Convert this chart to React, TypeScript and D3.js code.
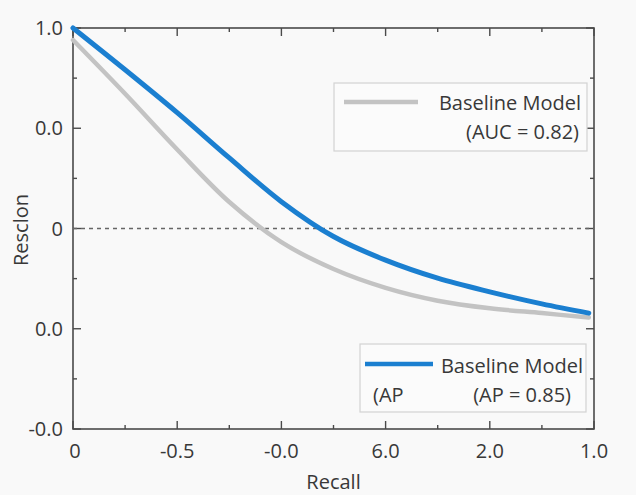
import * as d3 from 'd3';
import { useEffect, useRef } from 'react';

// recall positions (0..1) and precision values
const recall = [0, 0.1, 0.2, 0.3, 0.4, 0.5, 0.6, 0.7, 0.8, 0.9, 0.99];
const modelPrecision = [1.0, 0.896, 0.789, 0.676, 0.567, 0.48, 0.421, 0.376, 0.342, 0.312, 0.289];

const baseRecall = [0, 0.1, 0.2, 0.3, 0.4, 0.5, 0.6, 0.7, 0.8, 0.9, 0.99];
const basePrecision = [0.97, 0.836, 0.697, 0.566, 0.466, 0.399, 0.352, 0.32, 0.301, 0.289, 0.278];

const xTickLabels = ['0', '-0.5', '-0.0', '6.0', '2.0', '1.0'];
const yTickLabels = ['-0.0', '0.0', '0', '0.0', '1.0'];
const referenceLevel = 0.5;

const legendTop = { line: 'Baseline Model', sub: '(AUC = 0.82)' };
const legendBottom = { line: 'Baseline Model', left: '(AP', sub: '(AP = 0.85)' };

const FONT = '"Open Sans", "Noto Sans", sans-serif';
const BLUE = '#1b7fd0';
const GRAY = '#c3c3c3';
const TEXT = '#383838';

export default function App() {
  const ref = useRef<SVGSVGElement>(null);

  useEffect(() => {
    const width = 636, height = 495;
    const margin = { top: 28, right: 42, bottom: 66, left: 73 };
    const svg = d3.select(ref.current);
    svg.selectAll('*').remove();

    svg.append('rect').attr('width', width).attr('height', height).attr('fill', '#f9f9f9');

    const x = d3.scaleLinear().domain([0, 1]).range([margin.left, width - margin.right]);
    const y = d3.scaleLinear().domain([0, 1]).range([height - margin.bottom, margin.top]);

    const majors = d3.range(0, 1.0001, 0.2);
    const minorsX = d3.range(0.1, 1, 0.2);
    const majorsY = d3.range(0, 1.0001, 0.25);
    const minorsY = d3.range(0.125, 1, 0.25);

    const frame = svg.append('g').attr('stroke', '#4a4a4a').attr('fill', 'none');
    frame.append('rect')
      .attr('x', x(0)).attr('y', y(1))
      .attr('width', x(1) - x(0)).attr('height', y(0) - y(1))
      .attr('stroke-width', 1.6);

    const tickX = (vals: number[], len: number) => {
      vals.forEach(v => {
        frame.append('line').attr('x1', x(v)).attr('x2', x(v)).attr('y1', y(0)).attr('y2', y(0) - len).attr('stroke-width', 1.4);
        frame.append('line').attr('x1', x(v)).attr('x2', x(v)).attr('y1', y(1)).attr('y2', y(1) + len).attr('stroke-width', 1.4);
      });
    };
    const tickY = (vals: number[], len: number) => {
      vals.forEach(v => {
        frame.append('line').attr('y1', y(v)).attr('y2', y(v)).attr('x1', x(0)).attr('x2', x(0) + len).attr('stroke-width', 1.4);
        frame.append('line').attr('y1', y(v)).attr('y2', y(v)).attr('x1', x(1)).attr('x2', x(1) - len).attr('stroke-width', 1.4);
      });
    };
    tickX(majors, 8);
    tickX(minorsX, 4);
    tickY(majorsY, 8);
    tickY(minorsY, 4);

    svg.append('g').selectAll('text').data(majors).enter().append('text')
      .attr('x', (d, i) => x(d) + (i === 0 ? 2 : 0)).attr('y', 458)
      .attr('text-anchor', 'middle')
      .style('font-family', FONT).style('font-size', '20px').attr('fill', TEXT)
      .text((d, i) => xTickLabels[i]);

    svg.append('g').selectAll('text').data(majorsY).enter().append('text')
      .attr('x', x(0) - 10).attr('y', d => y(d) + 7)
      .attr('text-anchor', 'end')
      .style('font-family', FONT).style('font-size', '20px').attr('fill', TEXT)
      .text((d, i) => yTickLabels[i]);

    svg.append('text')
      .attr('x', (x(0) + x(1)) / 2).attr('y', 489)
      .attr('text-anchor', 'middle')
      .style('font-family', FONT).style('font-size', '20px').attr('fill', TEXT)
      .text('Recall');

    svg.append('text')
      .attr('transform', `translate(28, 230) rotate(-90)`)
      .attr('text-anchor', 'middle')
      .style('font-family', FONT).style('font-size', '20px').attr('fill', TEXT)
      .text('Resclon');

    // dashed reference line
    svg.append('line')
      .attr('x1', x(0)).attr('x2', x(1))
      .attr('y1', y(referenceLevel)).attr('y2', y(referenceLevel))
      .attr('stroke', '#666').attr('stroke-width', 1.4).attr('stroke-dasharray', '4,4');

    const line = d3.line<[number, number]>()
      .x(d => x(d[0])).y(d => y(d[1]))
      .curve(d3.curveCatmullRom.alpha(0.5));

    svg.append('path')
      .datum(baseRecall.map((r, i) => [r, basePrecision[i]] as [number, number]))
      .attr('d', line).attr('fill', 'none').attr('stroke', GRAY).attr('stroke-width', 4.5)
      .attr('stroke-linecap', 'round');

    svg.append('path')
      .datum(recall.map((r, i) => [r, modelPrecision[i]] as [number, number]))
      .attr('d', line).attr('fill', 'none').attr('stroke', BLUE).attr('stroke-width', 5)
      .attr('stroke-linecap', 'round');

    // legend boxes
    const lg1 = svg.append('g');
    lg1.append('rect').attr('x', 334).attr('y', 83).attr('width', 253).attr('height', 68)
      .attr('fill', '#fbfbfb').attr('stroke', '#d2d2d2').attr('stroke-width', 1.2);
    lg1.append('line').attr('x1', 344).attr('x2', 418).attr('y1', 102).attr('y2', 102)
      .attr('stroke', GRAY).attr('stroke-width', 4.5);
    lg1.append('text').attr('x', 581).attr('y', 110).attr('text-anchor', 'end')
      .style('font-family', FONT).style('font-size', '20px').attr('fill', TEXT).text(legendTop.line);
    lg1.append('text').attr('x', 579).attr('y', 139).attr('text-anchor', 'end')
      .style('font-family', FONT).style('font-size', '20px').attr('fill', TEXT).text(legendTop.sub);

    const lg2 = svg.append('g');
    lg2.append('rect').attr('x', 360).attr('y', 344).attr('width', 226).attr('height', 68)
      .attr('fill', '#fbfbfb').attr('stroke', '#d2d2d2').attr('stroke-width', 1.2);
    lg2.append('line').attr('x1', 365).attr('x2', 433).attr('y1', 364).attr('y2', 364)
      .attr('stroke', BLUE).attr('stroke-width', 4.5);
    lg2.append('text').attr('x', 583).attr('y', 373).attr('text-anchor', 'end')
      .style('font-family', FONT).style('font-size', '20px').attr('fill', TEXT).text(legendBottom.line);
    lg2.append('text').attr('x', 373).attr('y', 402)
      .style('font-family', FONT).style('font-size', '20px').attr('fill', TEXT).text(legendBottom.left);
    lg2.append('text').attr('x', 571).attr('y', 402).attr('text-anchor', 'end')
      .style('font-family', FONT).style('font-size', '20px').attr('fill', TEXT).text(legendBottom.sub);
  }, []);

  return (
    <div style={{ position: 'absolute', left: 0, top: 0 }}>
      <svg ref={ref} width={636} height={495} style={{ display: 'block' }} />
    </div>
  );
}
